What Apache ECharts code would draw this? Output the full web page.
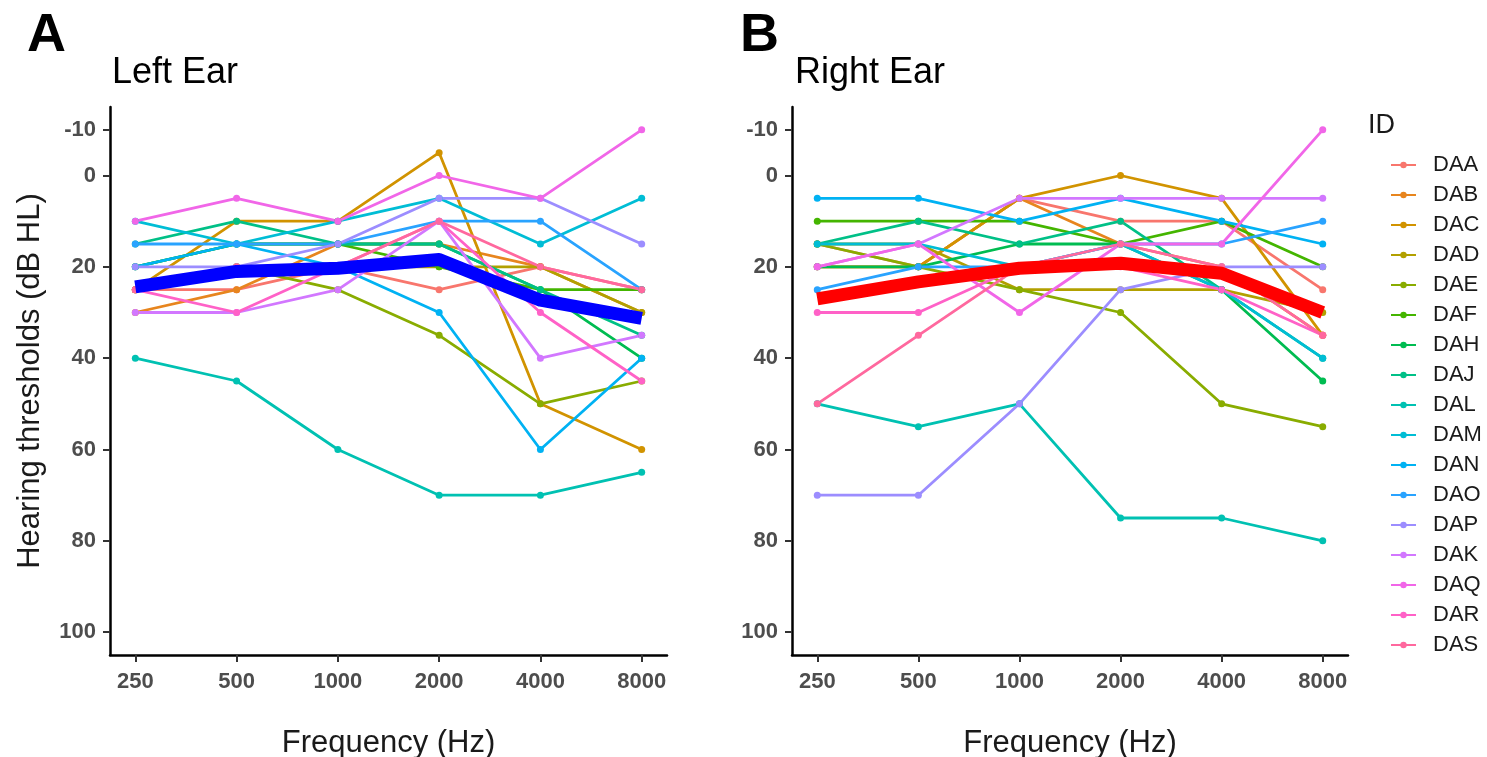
<!DOCTYPE html>
<html>
<head>
<meta charset="utf-8">
<script src="https://cdn.jsdelivr.net/npm/echarts@6/dist/echarts.min.js"></script>
<style>
  html, body { margin: 0; padding: 0; background: #ffffff; }
  #chart { width: 1487px; height: 757px; }
</style>
</head>
<body>
<div id="chart"></div>
<script>
// Test frequencies (Hz), shown as evenly spaced categories
const frequencies = ['250', '500', '1000', '2000', '4000', '8000'];

// Participant IDs in legend order and their hue colours
const ids = ['DAA', 'DAB', 'DAC', 'DAD', 'DAE', 'DAF', 'DAH', 'DAJ', 'DAL',
             'DAM', 'DAN', 'DAO', 'DAP', 'DAK', 'DAQ', 'DAR', 'DAS'];
const idColors = ['#F8766D', '#E7851E', '#D19300', '#B2A000', '#89AC00', '#44B500',
                  '#00BC51', '#00C087', '#00C1B2', '#00BDD5', '#00B2F3', '#29A3FF',
                  '#9C8DFF', '#D277FF', '#F166E8', '#FF61C7', '#FF689E'];

// Hearing thresholds (dB HL), one row per ID, columns follow `frequencies`
const leftEar = [
  [25, 25, 20, 25, 20, 25],   // DAA
  [30, 25, 15, 15, 20, 30],   // DAB
  [25, 10, 10, -5, 50, 60],   // DAC
  [25, 20, 20, 20, 20, 30],   // DAD
  [25, 20, 25, 35, 50, 45],   // DAE
  [20, 15, 15, 20, 25, 25],   // DAF
  [20, 15, 15, 15, 25, 40],   // DAH
  [15, 10, 15, 15, 25, 35],   // DAJ
  [40, 45, 60, 70, 70, 65],   // DAL
  [10, 15, 10, 5, 15, 5],     // DAM
  [20, 15, 20, 30, 60, 40],   // DAN
  [15, 15, 15, 10, 10, 25],   // DAO
  [20, 20, 15, 5, 5, 15],     // DAP
  [30, 30, 25, 10, 40, 35],   // DAK
  [10, 5, 10, 0, 5, -10],     // DAQ
  [25, 30, 20, 10, 30, 45],   // DAR
  [25, 20, 20, 10, 20, 25]    // DAS
];
const rightEar = [
  [15, 20, 5, 10, 10, 25],    // DAA
  [20, 20, 5, 15, 20, 35],    // DAB
  [20, 20, 5, 0, 5, 35],      // DAC
  [15, 15, 25, 25, 25, 30],   // DAD
  [15, 20, 25, 30, 50, 55],   // DAE
  [10, 10, 10, 15, 10, 20],   // DAF
  [20, 20, 15, 15, 25, 45],   // DAH
  [15, 10, 15, 10, 25, 40],   // DAJ
  [50, 55, 50, 75, 75, 80],   // DAL
  [15, 15, 20, 15, 25, 40],   // DAM
  [5, 5, 10, 5, 10, 15],      // DAN
  [25, 20, 20, 15, 15, 10],   // DAO
  [70, 70, 50, 25, 20, 20],   // DAP
  [20, 15, 5, 5, 5, 5],       // DAK
  [20, 15, 30, 15, 15, -10],  // DAQ
  [30, 30, 20, 20, 25, 35],   // DAR
  [50, 35, 20, 15, 20, 35]    // DAS
];

// Group mean thresholds per ear
const leftMean = [24.4, 21, 20.3, 18.4, 27.3, 31.3];
const rightMean = [27, 23.3, 20.3, 19.2, 21.4, 30];

// Y tick labels
const yTicks = [-10, 0, 20, 40, 60, 80, 100];

const FONT = '"Liberation Sans", Arial, Helvetica, sans-serif';
const xIdx = frequencies.map((_, i) => i);

function toPoints(row) {
  return row.map((v, i) => [i, v]);
}

function xAxisFor(gridIndex) {
  return {
    type: 'value', gridIndex: gridIndex,
    min: -0.25, max: 5.25,
    name: 'Frequency (Hz)', nameLocation: 'middle', nameGap: 73,
    nameTextStyle: { fontFamily: FONT, fontSize: 31, color: '#1a1a1a' },
    axisLine: { show: true, onZero: false, lineStyle: { color: '#000', width: 2.5 } },
    axisTick: { show: true, length: 7, lineStyle: { color: '#333', width: 2 }, customValues: xIdx },
    axisLabel: {
      customValues: xIdx, margin: 16,
      fontFamily: FONT, fontSize: 22, fontWeight: 'bold', color: '#4d4d4d',
      formatter: v => frequencies[Math.round(v)]
    },
    splitLine: { show: false }
  };
}

function yAxisFor(gridIndex, withName) {
  return {
    type: 'value', gridIndex: gridIndex, inverse: true,
    min: -15, max: 105,
    name: withName ? 'Hearing thresholds (dB HL)' : '',
    nameLocation: 'middle', nameGap: 64, nameRotate: 90,
    nameTextStyle: { fontFamily: FONT, fontSize: 31, color: '#1a1a1a' },
    axisLine: { show: true, onZero: false, lineStyle: { color: '#000', width: 2.5 } },
    axisTick: { show: true, length: 7, lineStyle: { color: '#333', width: 2 }, customValues: yTicks },
    axisLabel: {
      customValues: yTicks, margin: 14,
      fontFamily: FONT, fontSize: 22, fontWeight: 'bold', color: '#4d4d4d'
    },
    splitLine: { show: false }
  };
}

const series = [];
[leftEar, rightEar].forEach((table, g) => {
  table.forEach((row, k) => {
    series.push({
      type: 'line', name: ids[k], xAxisIndex: g, yAxisIndex: g,
      data: toPoints(row),
      color: idColors[k],
      symbol: 'circle', symbolSize: 7, showSymbol: true,
      lineStyle: { width: 2.8, color: idColors[k] },
      itemStyle: { color: idColors[k] },
      emphasis: { disabled: true },
      silent: true, z: 2
    });
  });
});
series.push({
  type: 'line', name: 'Left mean', xAxisIndex: 0, yAxisIndex: 0,
  data: toPoints(leftMean), symbol: 'none',
  lineStyle: { width: 13, color: '#0000FF', cap: 'butt', join: 'round' },
  silent: true, z: 5
});
series.push({
  type: 'line', name: 'Right mean', xAxisIndex: 1, yAxisIndex: 1,
  data: toPoints(rightMean), symbol: 'none',
  lineStyle: { width: 13, color: '#FF0000', cap: 'butt', join: 'round' },
  silent: true, z: 5
});

const chart = echarts.init(document.getElementById('chart'), null, { renderer: 'canvas' });
chart.setOption({
  backgroundColor: '#ffffff',
  animation: false,
  grid: [
    { left: 110, top: 107, width: 557, height: 548, containLabel: false, outerBoundsMode: 'none' },
    { left: 792, top: 107, width: 556, height: 548, containLabel: false, outerBoundsMode: 'none' }
  ],
  xAxis: [xAxisFor(0), xAxisFor(1)],
  yAxis: [yAxisFor(0, true), yAxisFor(1, false)],
  legend: {
    data: ids, orient: 'vertical', left: 1385, top: 149,
    itemWidth: 25, itemHeight: 8, itemGap: 8,
    textStyle: { fontFamily: FONT, fontSize: 22, color: '#1a1a1a', padding: [0, 0, 0, 12] },
    selectedMode: false
  },
  graphic: [
    { type: 'text', left: 27, top: 9, style: { text: 'A', font: 'bold 54px ' + FONT, fill: '#000' } },
    { type: 'text', left: 112, top: 55, style: { text: 'Left Ear', font: '36px ' + FONT, fill: '#000' } },
    { type: 'text', left: 740, top: 9, style: { text: 'B', font: 'bold 54px ' + FONT, fill: '#000' } },
    { type: 'text', left: 795, top: 55, style: { text: 'Right Ear', font: '36px ' + FONT, fill: '#000' } },
    { type: 'text', left: 1368, top: 112, style: { text: 'ID', font: '27px ' + FONT, fill: '#1a1a1a' } }
  ],
  series: series
});
</script>
</body>
</html>
